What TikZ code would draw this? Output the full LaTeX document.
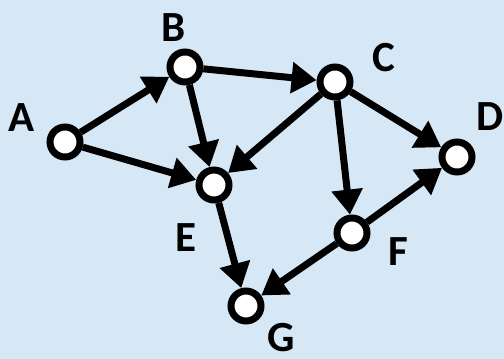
\documentclass[tikz,border=0pt]{standalone}
\usepackage{fontspec}
\setmainfont{Carlito}
\usetikzlibrary{arrows.meta}
\definecolor{bgblue}{RGB}{214,231,246}
\tikzset{
  vert/.style={circle,draw=black,fill=white,line width=7pt,minimum size=30pt,inner sep=0pt},
  lbl/.style={font=\fontsize{43}{43}\selectfont\bfseries,inner sep=0pt},
  edge/.style={line width=7pt,-{Triangle[length=25pt,width=30pt]}}
}
\begin{document}
\begin{tikzpicture}[x=1pt,y=-1pt]
\fill[bgblue] (0,0) rectangle (504,359);
\useasboundingbox (0,0) rectangle (504,359);
\node[vert] (A) at (65,142) {};
\node[vert] (B) at (185,67) {};
\node[vert] (C) at (335,82) {};
\node[vert] (D) at (457,157) {};
\node[vert] (E) at (214,185) {};
\node[vert] (F) at (352,233) {};
\node[vert] (G) at (246,306) {};
\node[lbl] (lA) at (22,118) {A};
\node[lbl] (lB) at (174,28) {B};
\node[lbl] (lC) at (384,58) {C};
\node[lbl] (lD) at (490,117) {D};
\node[lbl] (lE) at (186,238) {E};
\node[lbl] (lF) at (398,252) {F};
\node[lbl] (lG) at (281,338) {G};
\draw[edge] (A) -- (B);
\draw[edge] (A) -- (E);
\draw[edge] (B) -- (C);
\draw[edge] (B) -- (E);
\draw[edge] (C) -- (E);
\draw[edge] (C) -- (D);
\draw[edge] (C) -- (F);
\draw[edge] (F) -- (D);
\draw[edge] (F) -- (G);
\draw[edge] (E) -- (G);
\end{tikzpicture}
\end{document}
